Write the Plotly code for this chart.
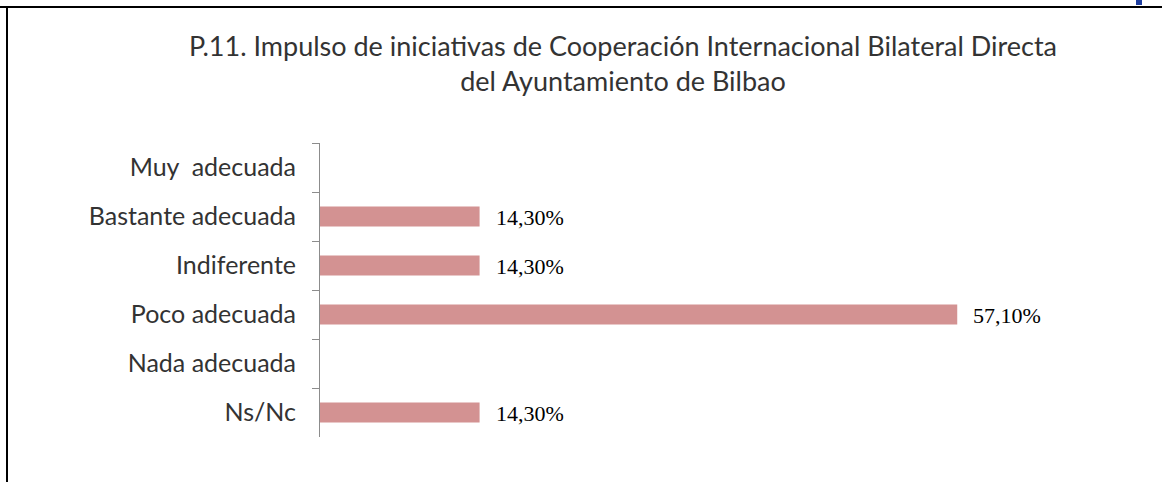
import plotly.graph_objects as go

categories = ["Muy\u00a0 adecuada", "Bastante adecuada", "Indiferente", "Poco adecuada", "Nada adecuada", "Ns/Nc"]
values = [0, 14.3, 14.3, 57.1, 0, 14.3]
labels = ["", "14,30%", "14,30%", "57,10%", "", "14,30%"]
title_text = "P.11. Impulso de iniciativas de Cooperación Internacional Bilateral Directa<br>del Ayuntamiento de Bilbao"

W, H = 1162, 482
ML, MR, MT, MB = 320, 100, 143, 45
PW, PH = W - ML - MR, H - MT - MB

fig = go.Figure(go.Bar(
    y=categories, x=values, orientation="h",
    marker=dict(color="#D39292", line=dict(width=0)),
    hoverinfo="skip",
))

annotations = []
for c, v, t in zip(categories, values, labels):
    if t:
        annotations.append(dict(x=v, y=c, xref="x", yref="y", text=t, showarrow=False,
                                xanchor="left", xshift=14, yshift=-1,
                                font=dict(family="Liberation Serif", size=22, color="#000000")))

def px_x(p):
    return (p - ML) / PW

def px_y(p):
    return (H - MB - p) / PH

shapes = [
    dict(type="line", xref="paper", yref="paper", x0=px_x(0), x1=px_x(W), y0=px_y(7), y1=px_y(7),
         line=dict(color="#000000", width=2)),
    dict(type="line", xref="paper", yref="paper", x0=px_x(7), x1=px_x(7), y0=px_y(7), y1=px_y(H),
         line=dict(color="#000000", width=2)),
    dict(type="rect", xref="paper", yref="paper", x0=px_x(1136), x1=px_x(1142), y0=px_y(0), y1=px_y(5),
         fillcolor="#1F3FA0", line=dict(width=0)),
]

fig.update_layout(
    width=W, height=H,
    margin=dict(l=ML, r=MR, t=MT, b=MB, pad=0),
    paper_bgcolor="white", plot_bgcolor="white",
    showlegend=False,
    bargap=0.59,
    title=dict(text=title_text, x=623 / W, xanchor="center", y=1 - 56 / H, yanchor="top",
               font=dict(family="Lato", size=27, color="#333333")),
    xaxis=dict(range=[0, PW / 11.16], visible=False),
    yaxis=dict(categoryorder="array", categoryarray=categories, autorange="reversed",
               showline=True, linecolor="#8C8C8C", linewidth=1,
               ticks="outside", tickson="boundaries", ticklen=7, tickcolor="#8C8C8C",
               ticklabelstandoff=18,
               tickfont=dict(family="Lato", size=25, color="#333333"),
               showgrid=False, zeroline=False),
    annotations=annotations,
    shapes=shapes,
)

fig.write_html("out.html", config={"displayModeBar": False},
               post_script="document.body.style.margin='0';")
